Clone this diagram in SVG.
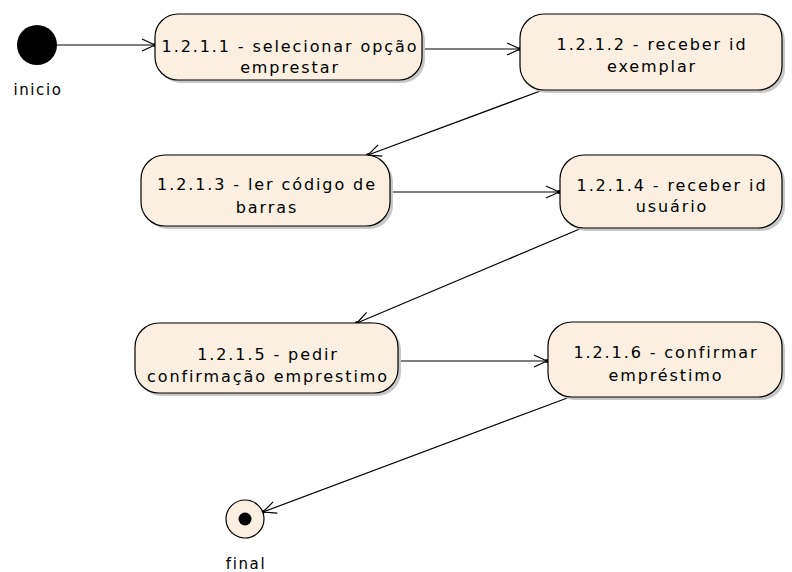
<svg xmlns="http://www.w3.org/2000/svg" width="792" height="572" viewBox="0 0 792 572">
  <style>
    .act { fill: #FBEFE1; stroke: #000; stroke-width: 1.2; }
    .shadow { fill: #C8C8C8; }
    .lbl { font-family: "DejaVu Sans", "Liberation Sans", sans-serif; font-size: 16px; letter-spacing: 1.9px; text-anchor: middle; fill: #000; }
    .cap { font-family: "DejaVu Sans", "Liberation Sans", sans-serif; font-size: 15px; letter-spacing: 1.6px; text-anchor: middle; fill: #000; }
    .flow { stroke: #000; stroke-width: 1.2; fill: none; marker-end: url(#open); }
  </style>
  <defs>
    <marker id="open" markerUnits="userSpaceOnUse" markerWidth="20" markerHeight="16" viewBox="-14 -8 16 16" refX="0" refY="0" orient="auto">
      <path d="M-13,-6 L0,0 L-13,6" fill="none" stroke="#000" stroke-width="1.2"/>
      <circle cx="0" cy="0" r="2" fill="#000"/>
    </marker>
  </defs>

  <!-- control flows -->
  <g id="flows">
    <line class="flow" x1="57" y1="45" x2="155" y2="45"/>
    <line class="flow" x1="422" y1="49" x2="520" y2="49"/>
    <line class="flow" x1="543" y1="90" x2="368" y2="155"/>
    <line class="flow" x1="390" y1="192" x2="559" y2="192"/>
    <line class="flow" x1="582" y1="228" x2="357" y2="323"/>
    <line class="flow" x1="398" y1="361" x2="547" y2="361"/>
    <line class="flow" x1="570" y1="397" x2="263" y2="512"/>
  </g>

  <!-- initial node -->
  <g id="inicio">
    <circle cx="37" cy="45" r="20" fill="#000"/>
    <text class="cap" x="38" y="95">inicio</text>
  </g>

  <g id="a1211">
    <rect class="shadow" x="158" y="17" width="267" height="66" rx="23"/>
    <rect class="act" x="155" y="14" width="267" height="66" rx="23"/>
    <text class="lbl" x="290" y="52">1.2.1.1 - selecionar opção</text>
    <text class="lbl" x="290" y="73">emprestar</text>
  </g>

  <g id="a1212">
    <rect class="shadow" x="523" y="17" width="262" height="76" rx="24"/>
    <rect class="act" x="520" y="14" width="262" height="76" rx="24"/>
    <text class="lbl" x="652" y="50">1.2.1.2 - receber id</text>
    <text class="lbl" x="652" y="72">exemplar</text>
  </g>

  <g id="a1213">
    <rect class="shadow" x="144" y="158" width="249" height="71" rx="24"/>
    <rect class="act" x="141" y="155" width="249" height="71" rx="24"/>
    <text class="lbl" x="267" y="190">1.2.1.3 - ler código de</text>
    <text class="lbl" x="267" y="213">barras</text>
  </g>

  <g id="a1214">
    <rect class="shadow" x="563" y="158" width="222" height="73" rx="24"/>
    <rect class="act" x="560" y="155" width="222" height="73" rx="24"/>
    <text class="lbl" x="672" y="191">1.2.1.4 - receber id</text>
    <text class="lbl" x="672" y="212">usuário</text>
  </g>

  <g id="a1215">
    <rect class="shadow" x="138" y="326" width="263" height="70" rx="24"/>
    <rect class="act" x="135" y="323" width="263" height="70" rx="24"/>
    <text class="lbl" x="268" y="360">1.2.1.5 - pedir</text>
    <text class="lbl" x="268" y="382">confirmação emprestimo</text>
  </g>

  <g id="a1216">
    <rect class="shadow" x="551" y="325" width="234" height="75" rx="24"/>
    <rect class="act" x="548" y="322" width="234" height="75" rx="24"/>
    <text class="lbl" x="666" y="358">1.2.1.6 - confirmar</text>
    <text class="lbl" x="666" y="381">empréstimo</text>
  </g>

  <!-- final node -->
  <g id="final">
    <circle cx="245" cy="519" r="19" fill="#FBEFE1" stroke="#000" stroke-width="1.2"/>
    <circle cx="245" cy="519" r="6.5" fill="#000"/>
    <text class="cap" x="246" y="569">final</text>
  </g>
</svg>
